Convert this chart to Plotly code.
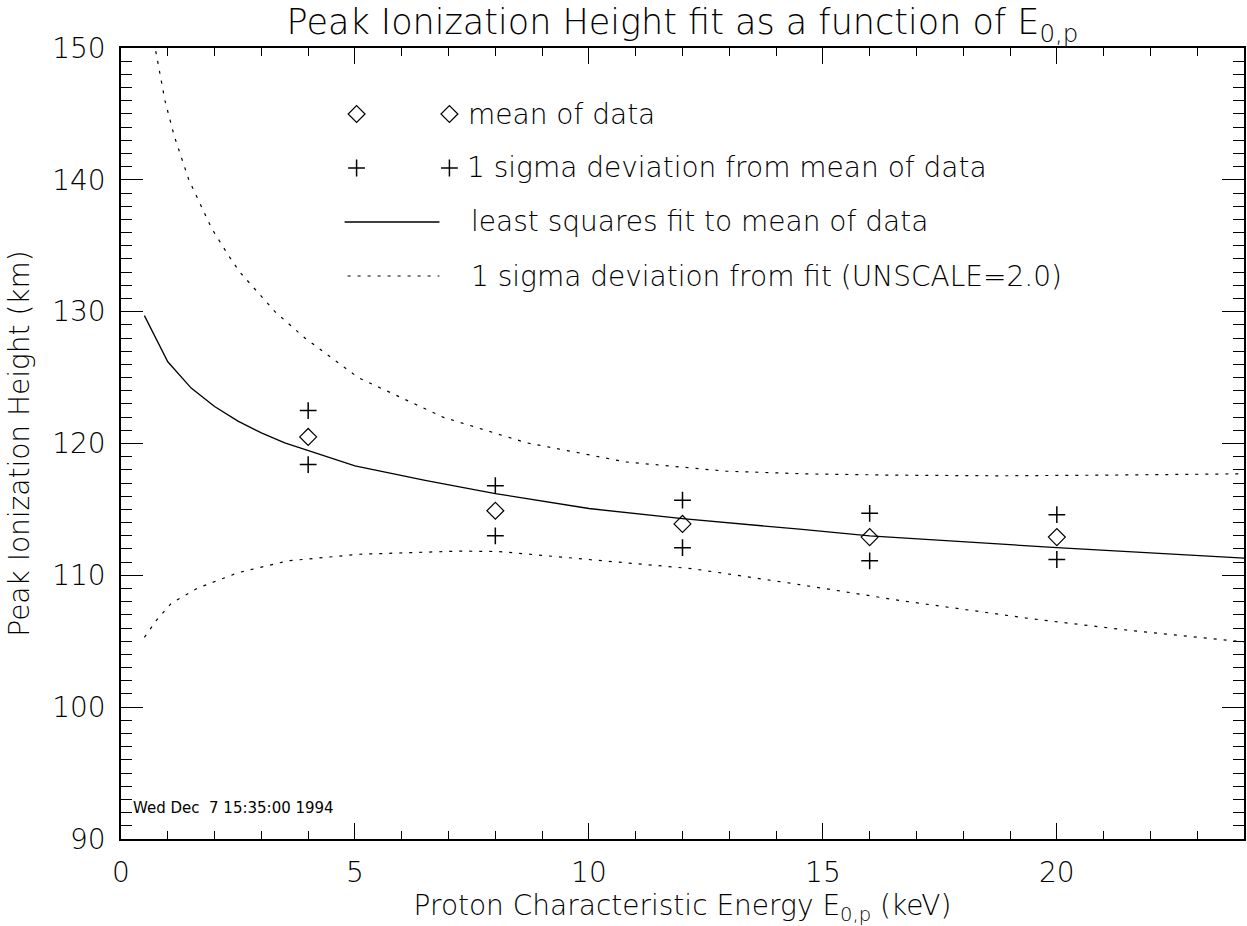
import plotly.graph_objects as go

# ---------------- data ----------------
energy_pts = [4, 8, 12, 16, 20]
mean_height = [120.5, 114.9, 113.9, 112.9, 112.9]
sigma_upper = [122.5, 116.8, 115.7, 114.7, 114.6]
sigma_lower = [118.4, 113.0, 112.1, 111.1, 111.2]

fit_x = [0.5, 1.0, 1.5, 2.0, 2.5, 3.0, 3.5, 4.0, 5.0, 6.5, 8.0, 10.0, 12.0, 14.5, 16.0, 20.0, 24.0]
fit_y = [129.7, 126.2, 124.2, 122.8, 121.7, 120.8, 120.05, 119.45, 118.3, 117.2, 116.2, 115.07, 114.3, 113.5, 113.0, 112.1, 111.3]

up_x = [0.5, 0.73, 0.94, 1.14, 1.45, 1.94, 2.29, 2.54, 3.29, 3.93, 5.07, 6.88, 8.66, 10.79, 12.93, 14.6, 16.5, 18.76, 21.0, 24.0]
up_y = [155.0, 150.0, 146.0, 143.3, 140.0, 136.3, 134.3, 133.0, 130.0, 128.0, 125.0, 122.0, 120.06, 118.6, 117.9, 117.7, 117.6, 117.55, 117.6, 117.7]

lo_x = [0.5, 0.76, 1.08, 1.65, 2.5, 3.57, 5.1, 7.24, 8.09, 10.08, 12.22, 14.5, 16.63, 19.47, 21.61, 24.0]
lo_y = [105.3, 106.6, 107.9, 109.05, 110.2, 111.1, 111.6, 111.84, 111.8, 111.2, 110.5, 109.3, 108.1, 106.7, 105.8, 104.95]

x_ticks = [0, 5, 10, 15, 20]
y_ticks = [90, 100, 110, 120, 130, 140, 150]

legend_labels = ["mean of data",
                 "1 sigma deviation from mean of data",
                 "least squares fit to mean of data",
                 "1 sigma deviation from fit (UNSCALE=2.0)"]

title_text = "Peak Ionization Height fit as a function of E<sub>0,p</sub>"
xtitle = "Proton Characteristic Energy E<sub>0,p</sub> (keV)"
ytitle = "Peak Ionization Height (km)"
stamp = "Wed Dec\u00a0\u00a07 15:35:00 1994"

# ---------------- layout geometry ----------------
W, H = 1247, 926
L, R, T, B = 121, 1246, 48, 839
FONT = "DejaVu Sans"
FW = 200

def px(xpix):
    return (xpix - L) / (R - L)

def py(ypix):
    return (B - ypix) / (B - T)

DOT = "3px,7px"

fig = go.Figure()

fig.add_trace(go.Scatter(x=up_x, y=up_y, mode="lines",
                         line=dict(color="black", width=1.2, dash=DOT),
                         showlegend=False, hoverinfo="skip"))
fig.add_trace(go.Scatter(x=lo_x, y=lo_y, mode="lines",
                         line=dict(color="black", width=1.2, dash=DOT),
                         showlegend=False, hoverinfo="skip"))
fig.add_trace(go.Scatter(x=fit_x, y=fit_y, mode="lines",
                         line=dict(color="black", width=1.3),
                         showlegend=False))
fig.add_trace(go.Scatter(x=energy_pts, y=mean_height, mode="markers",
                         marker=dict(symbol="diamond-open", size=13, color="black",
                                     line=dict(width=1.2, color="black")),
                         showlegend=False))
fig.add_trace(go.Scatter(x=energy_pts + energy_pts, y=sigma_upper + sigma_lower, mode="markers",
                         marker=dict(symbol="cross-thin-open", size=12, color="black",
                                     line=dict(width=1.5, color="black")),
                         showlegend=False))

# ---------------- custom legend (IDL style) ----------------
rows_y = [114, 168, 222, 276]
fig.add_trace(go.Scatter(x=[px(357), px(450)], y=[py(rows_y[0])] * 2, mode="markers",
                         xaxis="x2", yaxis="y2",
                         marker=dict(symbol="diamond-open", size=13, color="black",
                                     line=dict(width=1.2, color="black")),
                         showlegend=False, hoverinfo="skip"))
fig.add_trace(go.Scatter(x=[px(357), px(450)], y=[py(rows_y[1])] * 2, mode="markers",
                         xaxis="x2", yaxis="y2",
                         marker=dict(symbol="cross-thin-open", size=12, color="black",
                                     line=dict(width=1.5, color="black")),
                         showlegend=False, hoverinfo="skip"))
fig.add_trace(go.Scatter(x=[px(345), px(440)], y=[py(rows_y[2])] * 2, mode="lines",
                         xaxis="x2", yaxis="y2",
                         line=dict(color="black", width=1.3),
                         showlegend=False, hoverinfo="skip"))
fig.add_trace(go.Scatter(x=[px(348), px(440)], y=[py(rows_y[3])] * 2, mode="lines",
                         xaxis="x2", yaxis="y2",
                         line=dict(color="black", width=1.2, dash=DOT),
                         showlegend=False, hoverinfo="skip"))

annotations = []
text_x = [467, 466, 470, 470]
for lab, yy, xx in zip(legend_labels, rows_y, text_x):
    annotations.append(dict(text=lab, xref="paper", yref="paper", x=px(xx), y=py(yy),
                            xanchor="left", yanchor="middle", showarrow=False,
                            font=dict(family=FONT, size=28, color="black", weight=FW)))

annotations.append(dict(text=stamp, xref="paper", yref="paper", x=px(131), y=py(808),
                        xanchor="left", yanchor="middle", showarrow=False,
                        font=dict(family=FONT, size=15, color="black")))

axis_common = dict(showline=True, linecolor="black", linewidth=1.5, mirror="ticks",
                   ticks="inside", tickcolor="black", showgrid=False, zeroline=False,
                   tickfont=dict(family=FONT, size=28, color="black", weight=FW))

fig.update_layout(
    width=W, height=H,
    margin=dict(l=L, r=W - R, t=T, b=H - B),
    paper_bgcolor="white", plot_bgcolor="white",
    title=dict(text=title_text, x=0.5, xref="paper", xanchor="center",
               y=1 - 22 / H, yref="container", yanchor="middle",
               font=dict(family=FONT, size=35, color="black", weight=FW)),
    xaxis=dict(range=[0, 24], tickvals=x_ticks, ticklen=16, tickwidth=1.2,
               ticklabelstandoff=8,
               minor=dict(dtick=1, ticklen=8, ticks="inside", tickcolor="black", tickwidth=1.2),
               title=dict(text=xtitle, standoff=8,
                          font=dict(family=FONT, size=28, color="black", weight=FW)),
               **axis_common),
    yaxis=dict(range=[90, 150], tickvals=y_ticks, ticklen=22, tickwidth=1.2,
               ticklabelstandoff=8,
               minor=dict(dtick=1, ticklen=11, ticks="inside", tickcolor="black", tickwidth=1.2),
               title=dict(text=ytitle, standoff=14,
                          font=dict(family=FONT, size=28, color="black", weight=FW)),
               **axis_common),
    xaxis2=dict(range=[0, 1], overlaying="x", visible=False),
    yaxis2=dict(range=[0, 1], overlaying="y", visible=False),
    annotations=annotations,
    showlegend=False,
)

fig.write_html("out.html")
